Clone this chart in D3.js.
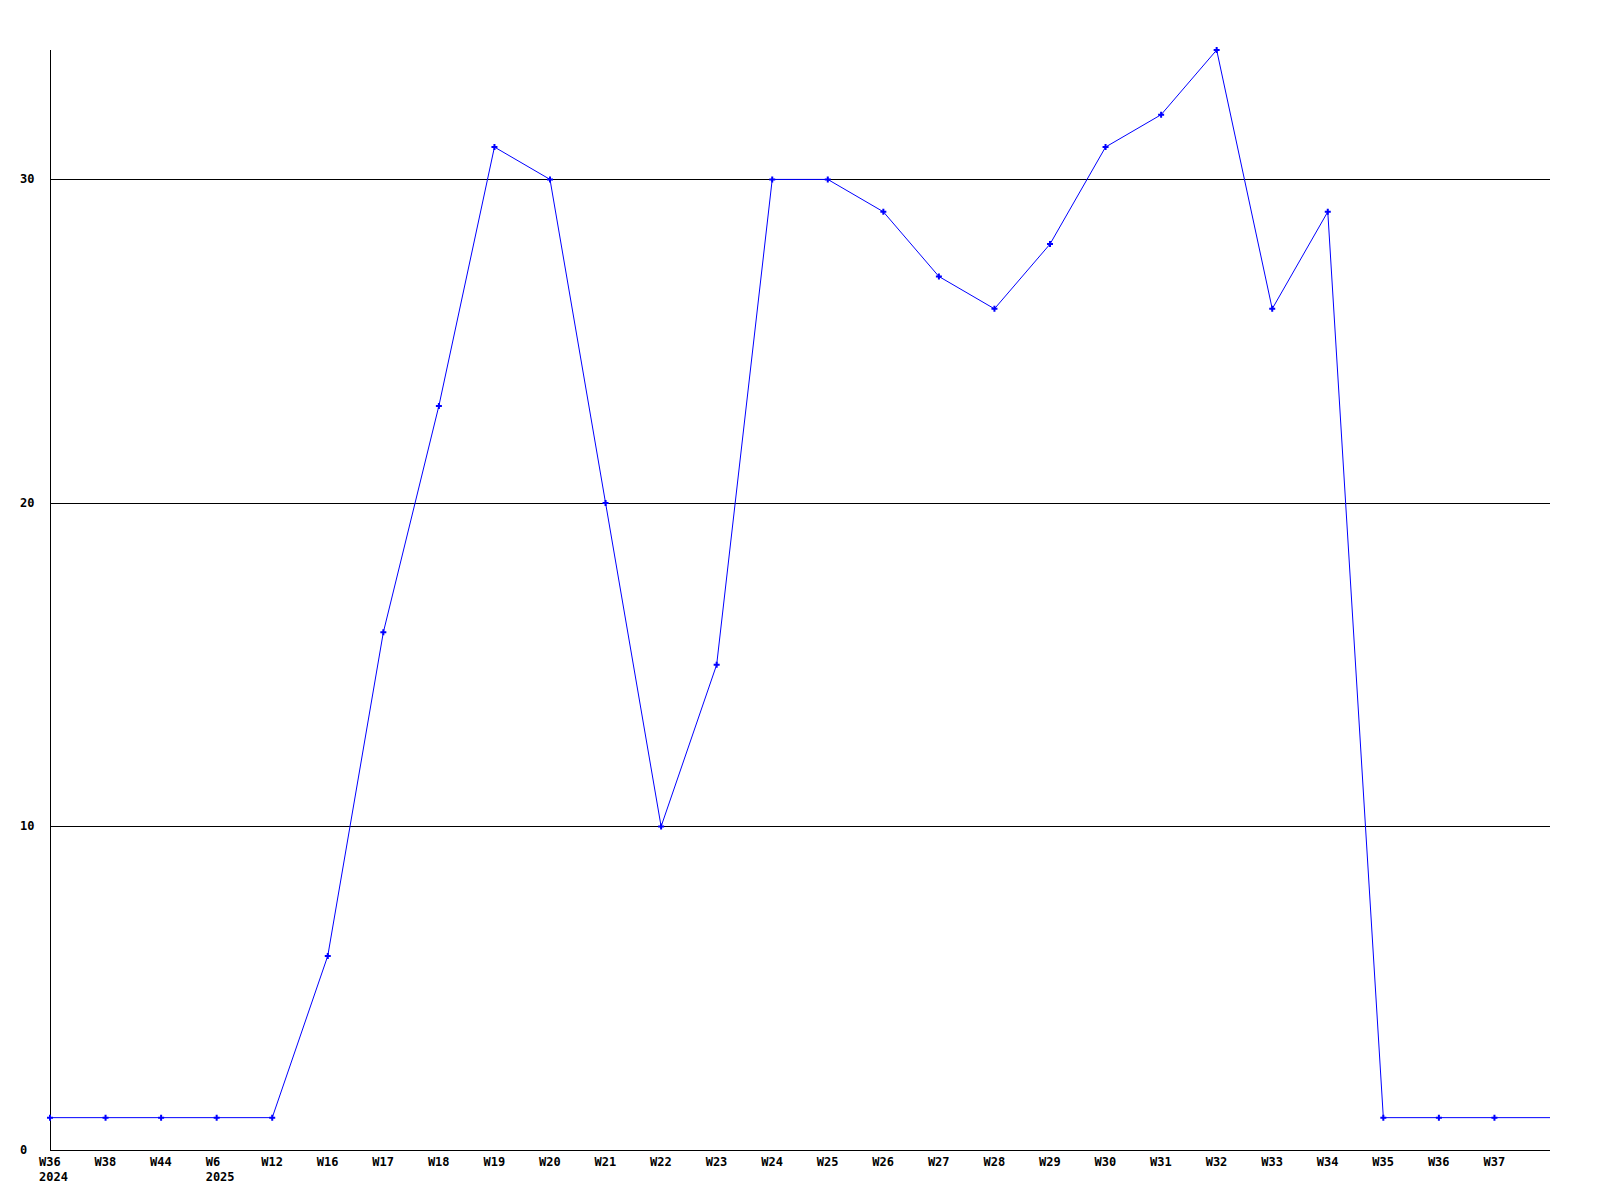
<!DOCTYPE html>
<html>
<head>
<meta charset="utf-8">
<script src="https://cdn.jsdelivr.net/npm/d3@7"></script>
<style>
  body { margin: 0; background: #fff; }
  text { font-family: "DejaVu Sans Mono", monospace; font-size: 12px; font-weight: bold; }
</style>
</head>
<body>
<script>
// week labels along the bottom (last slot has no label, line just runs on to the edge)
var weekLabels = ["W36", "W38", "W44", "W6", "W12", "W16", "W17", "W18", "W19", "W20",
  "W21", "W22", "W23", "W24", "W25", "W26", "W27", "W28", "W29", "W30",
  "W31", "W32", "W33", "W34", "W35", "W36", "W37", ""];
var yearLabels = {0: "2024", 3: "2025"};
var counts = [1, 1, 1, 1, 1, 6, 16, 23, 31, 30,
  20, 10, 15, 30, 30, 29, 27, 26, 28, 31,
  32, 34, 26, 29, 1, 1, 1, 1];
var yTicks = [0, 10, 20, 30];

var width = 1600, height = 1200;
// note: "top" is taken by window.top, so use plot* names
var plotLeft = 50, plotRight = 1550, plotTop = 50, plotBottom = 1150;

var svg = d3.select("body").append("svg")
  .attr("width", width)
  .attr("height", height);

var x = d3.scaleLinear().domain([0, counts.length - 1]).range([plotLeft, plotRight]);
var y = d3.scaleLinear().domain([0, 34]).range([plotBottom, plotTop]);

// grid lines
svg.append("g")
  .selectAll("line")
  .data(yTicks.filter(function(d) { return d > 0; }))
  .enter().append("line")
  .attr("x1", plotLeft).attr("x2", plotRight)
  .attr("y1", function(d) { return Math.round(y(d)) + 0.5; })
  .attr("y2", function(d) { return Math.round(y(d)) + 0.5; })
  .attr("stroke", "#000")
  .attr("shape-rendering", "crispEdges");

// axes lines
svg.append("line")
  .attr("x1", plotLeft + 0.5).attr("x2", plotLeft + 0.5)
  .attr("y1", plotTop).attr("y2", plotBottom)
  .attr("stroke", "#000")
  .attr("shape-rendering", "crispEdges");
svg.append("line")
  .attr("x1", plotLeft).attr("x2", plotRight)
  .attr("y1", plotBottom + 0.5).attr("y2", plotBottom + 0.5)
  .attr("stroke", "#000")
  .attr("shape-rendering", "crispEdges");

// y labels
svg.append("g")
  .selectAll("text")
  .data(yTicks)
  .enter().append("text")
  .attr("x", 20)
  .attr("y", function(d) { return y(d) + 4; })
  .text(function(d) { return d; });

// x labels
var xl = svg.append("g");
weekLabels.forEach(function(lab, i) {
  if (!lab) return;
  xl.append("text")
    .attr("x", x(i) - 11)
    .attr("y", plotBottom + 16)
    .text(lab);
  if (yearLabels[i]) {
    xl.append("text")
      .attr("x", x(i) - 11)
      .attr("y", plotBottom + 31)
      .text(yearLabels[i]);
  }
});

// the line
var line = d3.line()
  .x(function(d, i) { return x(i); })
  .y(function(d) { return y(d); });

svg.append("path")
  .datum(counts)
  .attr("fill", "none")
  .attr("stroke", "#0000ff")
  .attr("stroke-width", 1)
  .attr("d", line);

// point markers, little plus shapes (only on labelled weeks)
var marked = counts.map(function(d, i) { return {i: i, v: d}; })
  .filter(function(d) { return weekLabels[d.i]; });
svg.append("g")
  .selectAll("path")
  .data(marked)
  .enter().append("path")
  .attr("transform", function(d) { return "translate(" + x(d.i) + "," + y(d.v) + ")"; })
  .attr("d", "M-1,-3H1V-1H3V1H1V3H-1V1H-3V-1H-1Z")
  .attr("fill", "#0000ff");
</script>
</body>
</html>
